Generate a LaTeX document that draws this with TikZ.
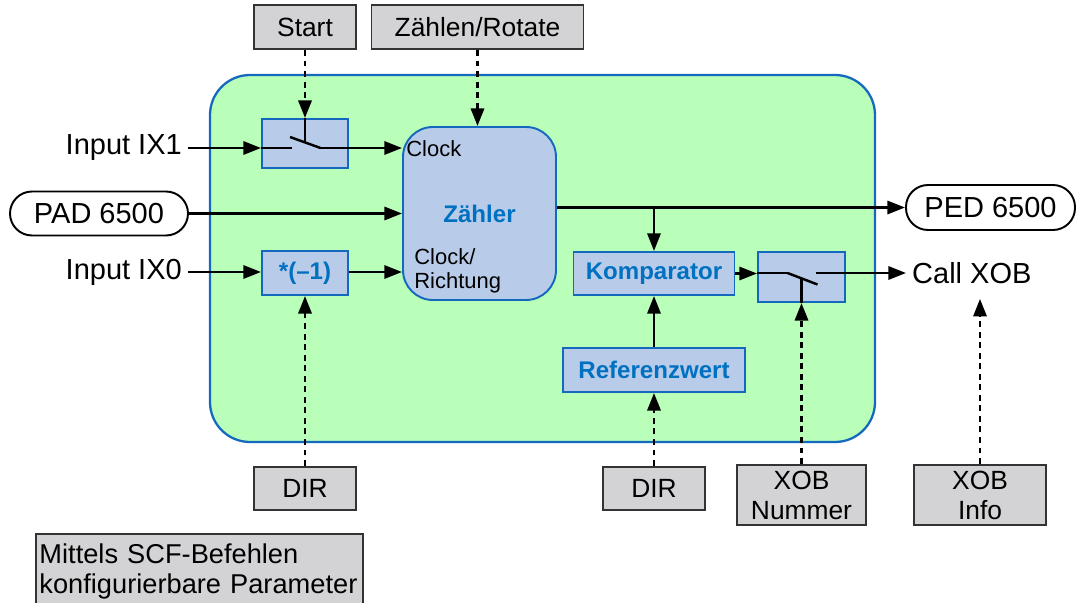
\documentclass[tikz,border=0pt]{standalone}
\usepackage{fontspec}
\setmainfont{Liberation Sans}
\usetikzlibrary{arrows.meta,positioning,calc}
\definecolor{panelgreen}{RGB}{185,255,185}
\definecolor{boxblue}{RGB}{184,204,234}
\definecolor{lineblue}{RGB}{20,105,190}
\definecolor{textblue}{RGB}{0,112,192}
\definecolor{cfggray}{RGB}{211,211,213}
\tikzset{
    sig/.style={line width=1.4pt,-{Triangle[length=10pt,width=7.5pt]}},
    wire/.style={line width=1.4pt},
    cfgline/.style={sig,line width=1.5pt,dash pattern=on 3.4pt off 2.6pt},
    unit/.style={draw=lineblue, fill=boxblue, line width=1.1pt, inner sep=0pt,
        font=\fontsize{13.7}{16}\selectfont\bfseries, text=textblue},
    cfg/.style={draw=black!80, fill=cfggray, line width=1.1pt, inner sep=0pt,
        align=center, font=\fontsize{15}{17}\selectfont},
    io/.style={font=\fontsize{16.5}{19}\selectfont},
    term/.style={draw, fill=white, line width=1.1pt, rounded corners=0.44cm,
        inner sep=0pt, io},
    small/.style={font=\fontsize{12.5}{14}\selectfont, align=left, inner sep=0pt}
}
\begin{document}
\begin{tikzpicture}
    \useasboundingbox (0,0) rectangle (21.58,12.06);
    % function block
    \node[draw=lineblue, fill=panelgreen, line width=1.3pt, rounded corners=0.8cm,
        minimum width=13.3cm, minimum height=7.34cm] (panel) at (10.85,6.89) {};

    % configurable parameters
    \node[cfg, minimum width=2.04cm, minimum height=0.88cm] (start) at (6.10,11.52) {Start};
    \node[cfg, minimum width=4.24cm, minimum height=0.88cm] (zr) at (9.55,11.52) {Zählen/Rotate};
    \node[cfg, minimum width=2.04cm, minimum height=0.86cm] (dir1) at (6.10,2.29) {DIR};
    \node[cfg, minimum width=2.04cm, minimum height=0.86cm] (dir2) at (13.08,2.29) {DIR};
    \node[cfg, minimum width=2.58cm, minimum height=1.2cm] (xnum) at (16.03,2.16) {XOB\\Nummer};
    \node[cfg, minimum width=2.64cm, minimum height=1.2cm] (xinfo) at (19.60,2.16) {XOB\\Info};
    \node[cfg, anchor=north west, align=left, minimum width=6.54cm, minimum height=1.5cm,
        text width=6.4cm, font=\fontsize{15.5}{17}\selectfont] (legend) at (0.70,1.40)
        {Mittels SCF-Befehlen\\konfigurierbare Parameter};

    % blocks
    \node[unit, minimum width=1.72cm, minimum height=0.98cm] (sw1) at (6.10,9.19) {};
    \node[unit, minimum width=1.72cm, minimum height=0.88cm] (neg) at (6.10,6.60) {*(--1)};
    \node[unit, rounded corners=0.6cm, minimum width=3.06cm, minimum height=3.46cm] (zaehler) at (9.59,7.79) {Zähler};
    \node[small, anchor=west] (clk) at (8.12,9.08) {Clock};
    \node[small, anchor=west] (clkdir) at (8.28,6.64) {Clock/\\Richtung};
    \node[unit, minimum width=3.22cm, minimum height=0.86cm] (komp) at (13.08,6.59) {Komparator};
    \node[unit, minimum width=1.74cm, minimum height=1.0cm] (sw2) at (16.03,6.52) {};
    \node[unit, minimum width=3.64cm, minimum height=0.88cm] (ref) at (13.08,4.66) {Referenzwert};

    % inputs and outputs
    \node[io, anchor=east] (in1) at (3.76,9.10) {Input IX1};
    \node[io, anchor=east] (in0) at (3.76,6.62) {Input IX0};
    \node[term, minimum width=3.56cm, minimum height=0.88cm] (pad) at (1.98,7.79) {PAD 6500};
    \node[term, minimum width=3.38cm, minimum height=0.9cm] (ped) at (19.81,7.91) {PED 6500};
    \node[io, anchor=west] (call) at (18.12,6.60) {Call XOB};

    % switch 1
    \draw[sig] (in1.east) -- (in1.east -| sw1.west);
    \draw[wire] (in1.east -| sw1.west) -- (5.83,9.10);
    \draw[wire] (5.80,9.32) -- (6.41,9.10);
    \draw[wire] (sw1.north) -- (6.10,9.21);
    \draw[sig] (6.38,9.10) -- (in1.east -| zaehler.west);

    % direction
    \draw[sig] (in0.east) -- (in0.east -| neg.west);
    \draw[sig] (neg.east |- in0.east) -- (in0.east -| zaehler.west);
    \draw[sig] (pad.east) -- (pad.east -| zaehler.west);

    % counter output
    \draw[sig] (zaehler.east |- ped.west) -- (ped.west);
    \draw[sig] (komp.north |- ped.west) -- (komp.north);
    \draw[sig] (ref.north) -- (komp.south);
    \draw[sig] (komp.east) -- (komp.east -| sw2.west);

    % switch 2
    \draw[wire] (sw2.west |- call.west) -- (15.77,6.60);
    \draw[wire] (15.75,6.60) -- (16.35,6.37);
    \draw[wire] (sw2.south) -- (16.03,6.50);
    \draw[sig] (16.31,6.60) -- (call.west);

    % parameters
    \draw[cfgline] (start.south) -- (sw1.north);
    \draw[cfgline] (zr.south) -- (zr.south |- zaehler.north);
    \draw[cfgline] (dir1.north) -- (neg.south);
    \draw[cfgline] (dir2.north) -- (ref.south);
    \draw[cfgline] (xnum.north) -- (sw2.south);
    \draw[cfgline, shorten >=0.18cm] (xinfo.north) -- (xinfo.north |- call.south);
\end{tikzpicture}
\end{document}
